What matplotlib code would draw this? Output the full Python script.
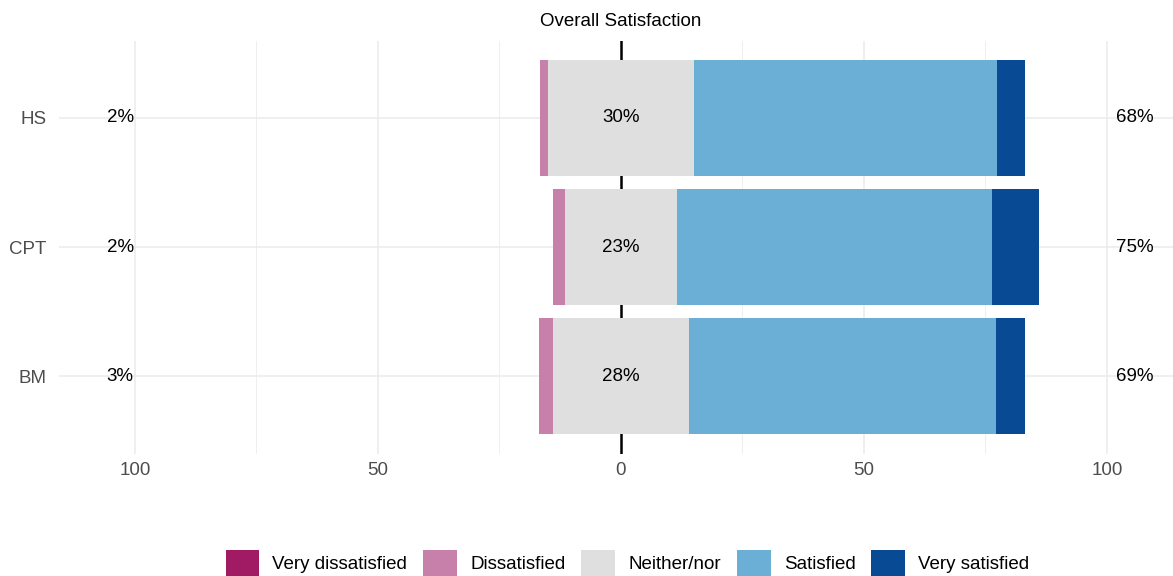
import matplotlib.pyplot as plt
from matplotlib.patches import Patch

plt.rcParams['font.family'] = ['Liberation Sans', 'DejaVu Sans']

# データ
groups = ['BM', 'CPT', 'HS']
levels = ['Very dissatisfied', 'Dissatisfied', 'Neither/nor', 'Satisfied', 'Very satisfied']
very_dissatisfied = [0.0, 0.0, 0.0]
dissatisfied = [2.9, 2.4, 1.7]
neutral = [28.0, 23.0, 30.0]
satisfied = [63.2, 64.8, 62.4]
very_satisfied = [5.9, 9.8, 5.8]
colors = ['#A11A64', '#C680AA', '#DFDFDF', '#6BAED6', '#084B94']

fs = 13.5

fig = plt.figure(figsize=(11.73, 5.76), dpi=100)
ax = fig.add_axes([59 / 1173, 122.5 / 576, 1 - 59 / 1173, 413 / 576])

ys = [1, 2, 3]
h = 0.9

# グリッド
for x in [-100, -50, 50, 100]:
    ax.axvline(x, color='#EBEBEB', lw=1.1, zorder=0)
for x in [-75, -25, 25, 75]:
    ax.axvline(x, color='#EBEBEB', lw=0.55, zorder=0)
for y in ys:
    ax.axhline(y, color='#EBEBEB', lw=1.1, zorder=0)
ax.axvline(0, color='black', lw=1.8, zorder=1)

for i, y in enumerate(ys):
    n = neutral[i]
    # 左側（否定）
    left = -n / 2
    ax.barh(y, -dissatisfied[i], left=left, height=h, color=colors[1], zorder=2)
    ax.barh(y, -very_dissatisfied[i], left=left - dissatisfied[i], height=h, color=colors[0], zorder=2)
    # 中央
    ax.barh(y, n, left=-n / 2, height=h, color=colors[2], zorder=2)
    # 右側（肯定）
    ax.barh(y, satisfied[i], left=n / 2, height=h, color=colors[3], zorder=2)
    ax.barh(y, very_satisfied[i], left=n / 2 + satisfied[i], height=h, color=colors[4], zorder=2)

    low = dissatisfied[i] + very_dissatisfied[i]
    high = satisfied[i] + very_satisfied[i]
    ax.text(-103, y, f'{round(low)}%', ha='center', va='center', fontsize=fs, color='black', zorder=3)
    ax.text(0, y, f'{round(n)}%', ha='center', va='center', fontsize=fs, color='black', zorder=3)
    ax.text(105.8, y, f'{round(high)}%', ha='center', va='center', fontsize=fs, color='black', zorder=3)

ax.set_xlim(-115.6, 113.6)
ax.set_ylim(0.4, 3.6)
ax.set_xticks([-100, -50, 0, 50, 100])
ax.set_xticklabels(['100', '50', '0', '50', '100'])
ax.set_yticks(ys)
ax.set_yticklabels(groups)
ax.tick_params(axis='x', length=0, labelsize=fs, labelcolor='#4D4D4D', pad=6)
ax.tick_params(axis='y', length=0, labelsize=fs, labelcolor='#4D4D4D', pad=9)
for s in ax.spines.values():
    s.set_visible(False)

fig.text(621 / 1173, 1 - 21.5 / 576, 'Overall Satisfaction', ha='center', va='center', fontsize=fs)

handles = [Patch(facecolor=c, edgecolor='none') for c in colors]
fig.legend(handles, levels, loc='center', bbox_to_anchor=(627.5 / 1173, 1 - 563 / 576), ncol=5,
           frameon=False, fontsize=fs, handlelength=1.8, handleheight=1.8,
           handletextpad=0.7, columnspacing=0.85)

fig.savefig('out.png', dpi=100)
